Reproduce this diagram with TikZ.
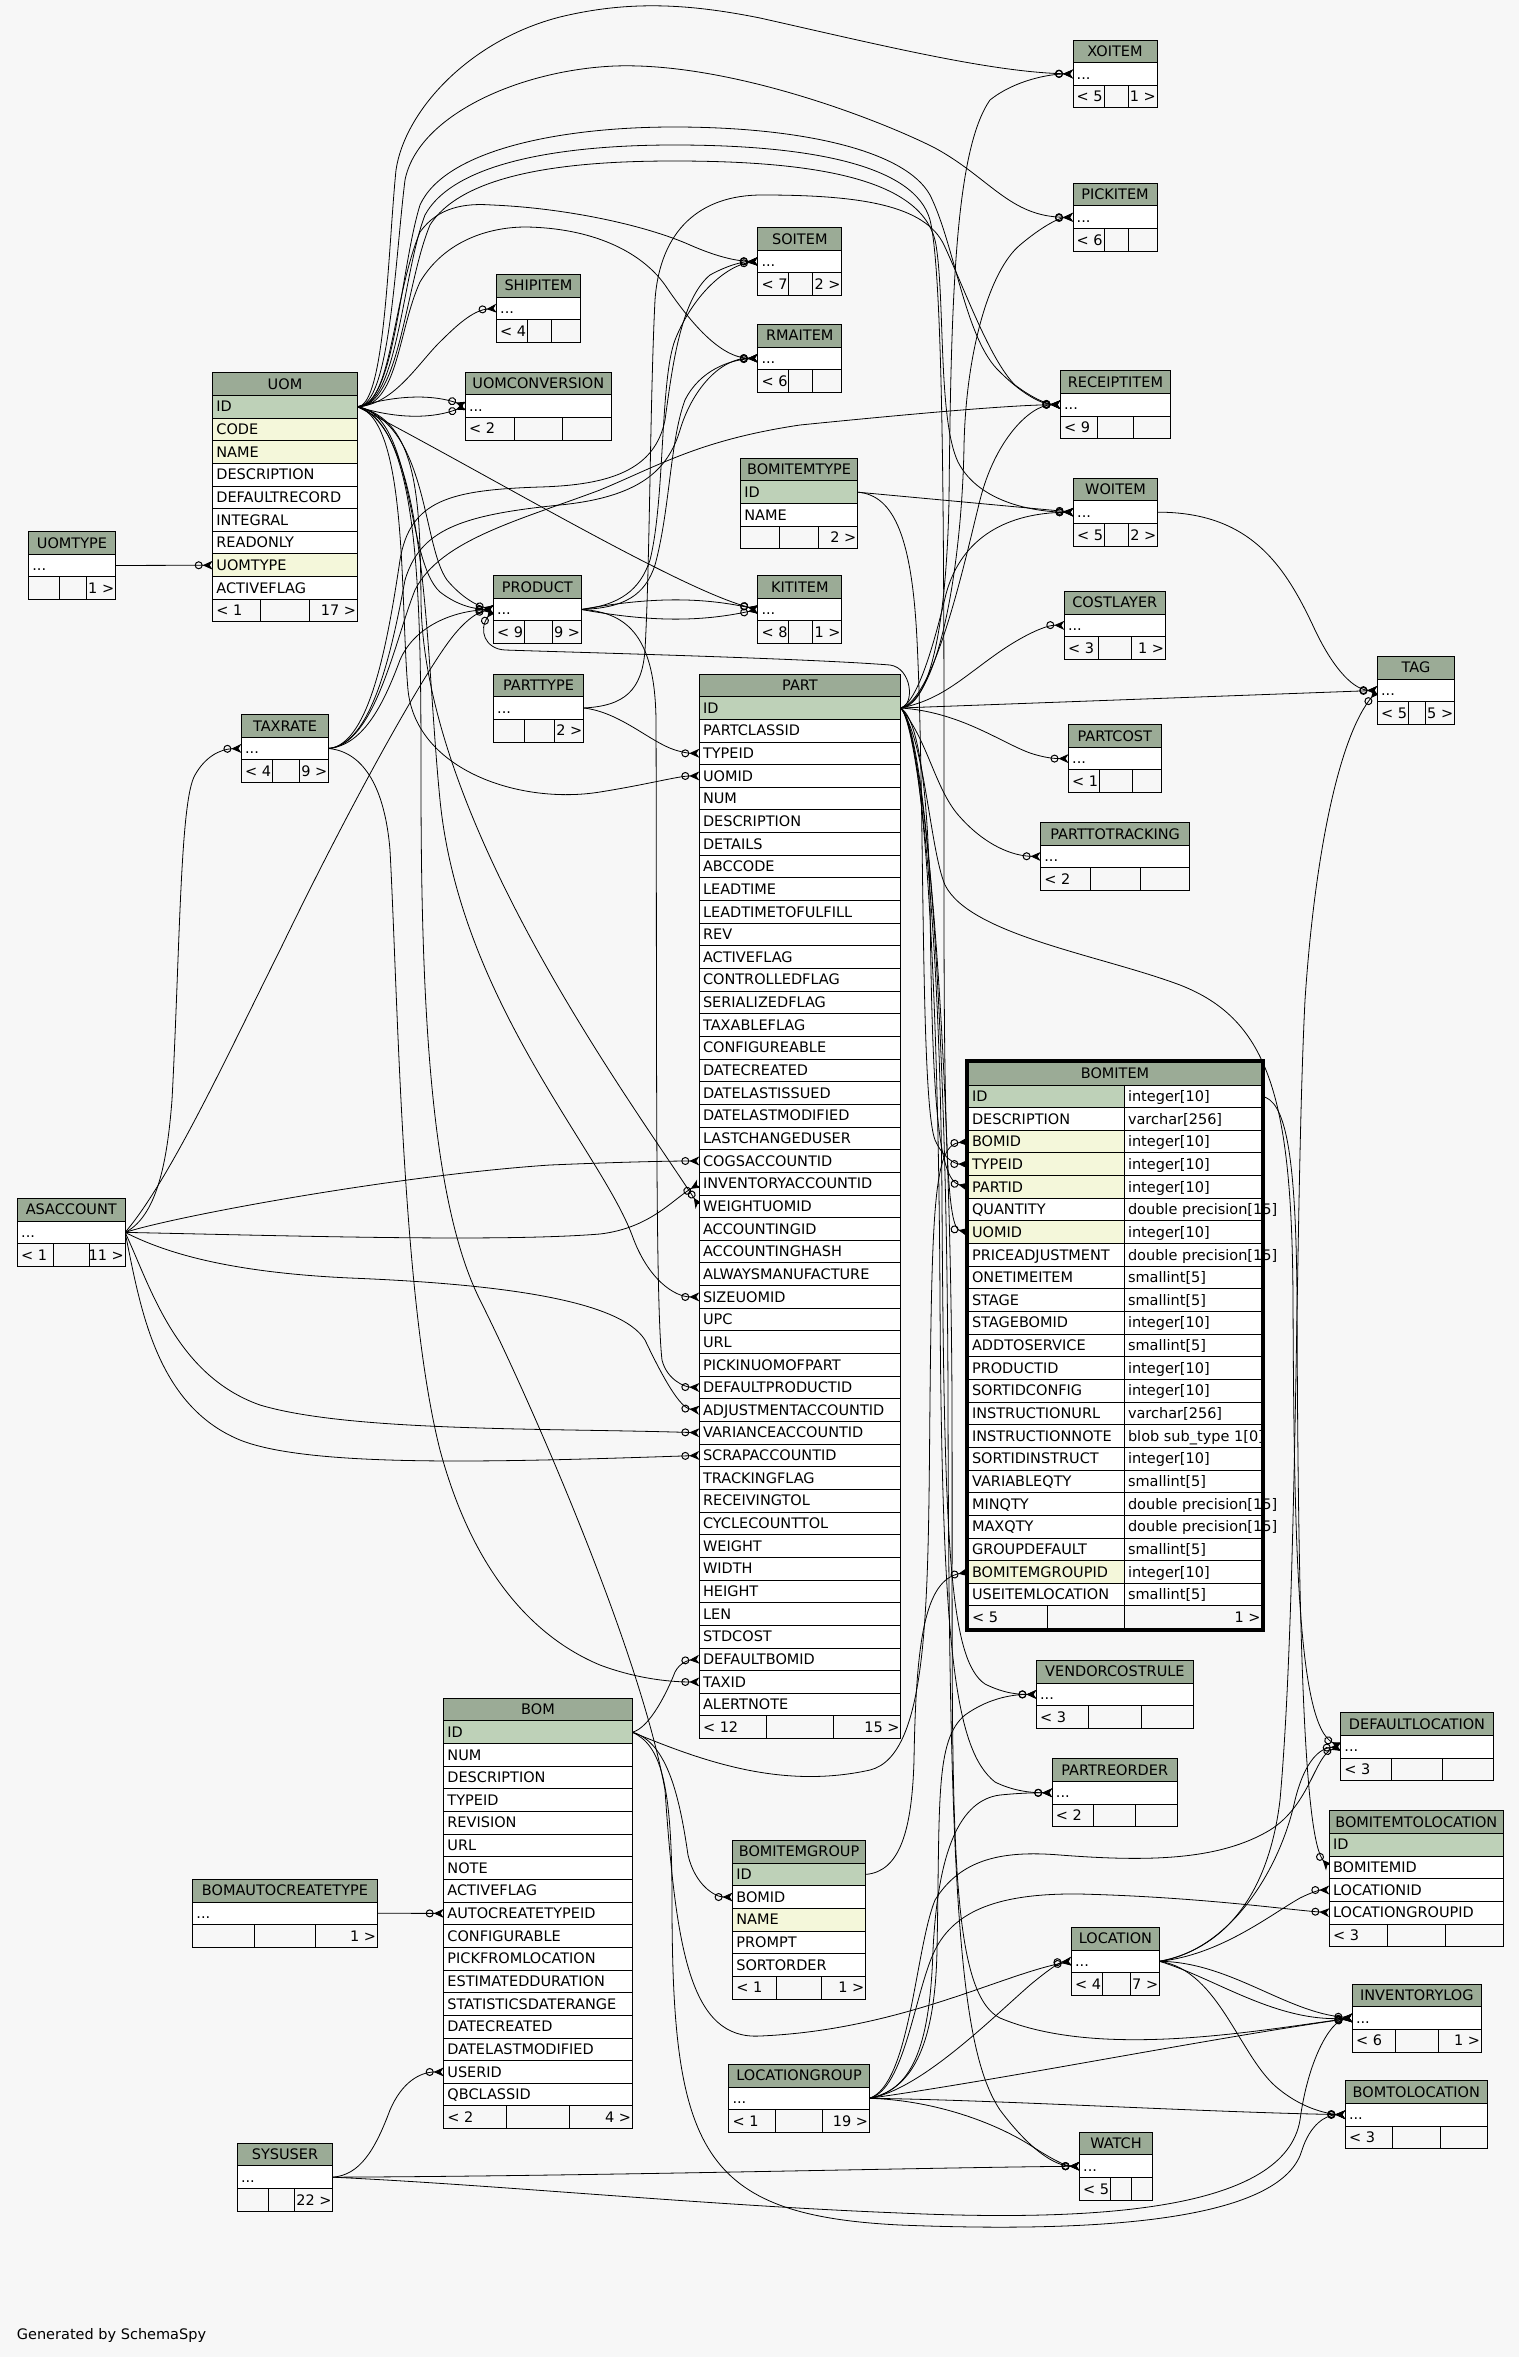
\documentclass[tikz,border=0pt]{standalone}
\usepackage{fontspec}
\setmainfont{DejaVu Sans}
\usetikzlibrary{arrows.meta, positioning}

\definecolor{hdrgreen}{HTML}{9BAB96}
\definecolor{keygreen}{HTML}{BED1B8}
\definecolor{idxyellow}{HTML}{F4F7DA}
\definecolor{pagebg}{HTML}{F7F7F7}

\pgfdeclarelayer{bg}
\pgfdeclarelayer{edges}
\pgfsetlayers{bg,edges,main}

\newcommand{\tblfont}{\fontsize{14.5}{16}\selectfont}
\newcommand{\rowh}{22.65}

\tikzset{
  cell/.style={draw=black, line width=0.9pt, minimum height=22.65pt, inner sep=0pt, outer sep=0pt, anchor=north west},
  cell-h/.style={cell, fill=hdrgreen},
  cell-k/.style={cell, fill=keygreen},
  cell-i/.style={cell, fill=idxyellow},
  cell-n/.style={cell, fill=white},
  txt/.style={anchor=base west, inner sep=0pt, font=\tblfont},
  fk/.style={line width=0.8pt, -{Circle[open, length=8pt, width=8pt, line width=1pt] Stealth[reversed, length=10pt, width=9pt, inset=3pt]}},
}

% footer row: x, y, width, left text, right text, last cell width
\newcommand{\dbfoot}[6]{%
  \pgfmathsetmacro\splita{#3<100 ? 31 : #3/3}
  \pgfmathsetmacro\splitb{#3<100 ? #3-#6 : 2*#3/3}
  \draw[line width=0.9pt, fill=pagebg] (#1,{#2}) rectangle ++(#3,\rowh);
  \draw[line width=0.9pt] ({#1+\splita},{#2}) -- ++(0,\rowh) ({#1+\splitb},{#2}) -- ++(0,\rowh);
  \node[txt] at ({#1+3.5},{#2+16.5}) {#4};
  \node[txt, anchor=base east] at ({#1+#3-1},{#2+16.5}) {#5};
}

% table with columns: name, x, y, width, columns, footer left, footer right
\newcommand{\dbtable}[7]{%
  \node[cell-h, minimum width=#4pt] (#1) at (#2,#3) {};
  \node[font=\tblfont, anchor=base, inner sep=0pt] at ([yshift=-5.2pt]#1.center) {#1};
  \foreach \col/\sty [count=\r] in {#5} {
    \node[cell-\sty, minimum width=#4pt] (#1-\col) at (#2,{#3+\rowh*\r}) {};
    \node[txt] at ([xshift=3.5pt, yshift=-5.2pt]#1-\col.west) {\col};
    \xdef\nrows{\r}
  }
  \dbfoot{#2}{#3+\rowh*(\nrows+1)}{#4}{#6}{#7}{29}
}

% collapsed table: [last cell], name, x, y, width, footer left, footer right
\newcommand{\dbsmall}[7][29]{%
  \node[cell-h, minimum width=#5pt] (#2) at (#3,#4) {};
  \node[font=\tblfont, anchor=base, inner sep=0pt] at ([yshift=-5.2pt]#2.center) {#2};
  \node[cell-n, minimum width=#5pt] (#2-dots) at (#3,{#4+\rowh}) {};
  \node[txt] at ([xshift=3.5pt, yshift=-5.2pt]#2-dots.west) {...};
  \dbfoot{#3}{#4+2*\rowh}{#5}{#6}{#7}{#1}
}

\begin{document}
\begin{tikzpicture}[x=1pt, y=-1pt]
  \begin{pgfonlayer}{bg}
    \fill[pagebg] (0,0) rectangle (1519,2357);
  \end{pgfonlayer}
  \useasboundingbox (0,0) rectangle (1519,2357);

  % 1. Tables
  \dbsmall{XOITEM}{1073}{40}{84}{< 5}{1 >}
  \dbsmall{PICKITEM}{1073}{183.3}{84}{< 6}{}
  \dbsmall{SOITEM}{757.8}{227.5}{84}{< 7}{2 >}
  \dbsmall{SHIPITEM}{496.5}{274.3}{84}{< 4}{}
  \dbsmall{RMAITEM}{757.8}{324.3}{84}{< 6}{}
  \dbsmall{RECEIPTITEM}{1060.4}{370.7}{110}{< 9}{}
  \dbsmall{UOMCONVERSION}{465.3}{372}{146}{< 2}{}
  \dbsmall{UOMTYPE}{28.6}{531.5}{86.8}{}{1 >}
  \dbsmall{WOITEM}{1073.5}{478.2}{84}{< 5}{2 >}
  \dbsmall{PRODUCT}{493.3}{575.5}{88}{< 9}{9 >}
  \dbsmall{KITITEM}{757.8}{575.5}{84}{< 8}{1 >}
  \dbsmall{COSTLAYER}{1064.3}{591.4}{101}{< 3}{1 >}
  \dbsmall{TAG}{1377.4}{656.4}{77}{< 5}{5 >}
  \dbsmall{PARTTYPE}{493.5}{674}{90}{}{2 >}
  \dbsmall{PARTCOST}{1068.5}{724.6}{92.6}{< 1}{}
  \dbsmall{TAXRATE}{241.4}{714.5}{87.2}{< 4}{9 >}
  \dbsmall{PARTTOTRACKING}{1040.6}{822.5}{149}{< 2}{}
  \dbsmall{ASACCOUNT}{17.5}{1198.4}{107.6}{< 1}{11 >}
  \dbsmall{VENDORCOSTRULE}{1036.4}{1660.4}{157}{< 3}{}
  \dbsmall{DEFAULTLOCATION}{1340.7}{1712.7}{152.6}{< 3}{}
  \dbsmall{PARTREORDER}{1052.2}{1758.8}{125}{< 2}{}
  \dbsmall{BOMAUTOCREATETYPE}{192.7}{1879.3}{184.6}{}{1 >}
  \dbsmall{LOCATION}{1071.4}{1927.3}{88}{< 4}{7 >}
  \dbsmall{INVENTORYLOG}{1352.3}{1984}{129}{< 6}{1 >}
  \dbsmall{LOCATIONGROUP}{728.8}{2064.3}{140.5}{< 1}{19 >}
  \dbsmall{BOMTOLOCATION}{1345.3}{2080.7}{142}{< 3}{}
  \dbsmall[21]{WATCH}{1079.5}{2132.2}{73}{< 5}{}
  \dbsmall[38]{SYSUSER}{237.3}{2143.2}{95.4}{}{22 >}

  \dbtable{UOM}{212.7}{372.7}{144.6}{ID/k, CODE/i, NAME/i, DESCRIPTION/n, DEFAULTRECORD/n, INTEGRAL/n, READONLY/n, UOMTYPE/i, ACTIVEFLAG/n}{< 1}{17 >}
  \dbtable{BOMITEMTYPE}{740.6}{458.2}{117}{ID/k, NAME/n}{}{2 >}
  \dbtable{PART}{699.3}{674}{201.4}{ID/k, PARTCLASSID/n, TYPEID/n, UOMID/n, NUM/n, DESCRIPTION/n, DETAILS/n, ABCCODE/n, LEADTIME/n, LEADTIMETOFULFILL/n, REV/n, ACTIVEFLAG/n, CONTROLLEDFLAG/n, SERIALIZEDFLAG/n, TAXABLEFLAG/n, CONFIGUREABLE/n, DATECREATED/n, DATELASTISSUED/n, DATELASTMODIFIED/n, LASTCHANGEDUSER/n, COGSACCOUNTID/n, INVENTORYACCOUNTID/n, WEIGHTUOMID/n, ACCOUNTINGID/n, ACCOUNTINGHASH/n, ALWAYSMANUFACTURE/n, SIZEUOMID/n, UPC/n, URL/n, PICKINUOMOFPART/n, DEFAULTPRODUCTID/n, ADJUSTMENTACCOUNTID/n, VARIANCEACCOUNTID/n, SCRAPACCOUNTID/n, TRACKINGFLAG/n, RECEIVINGTOL/n, CYCLECOUNTTOL/n, WEIGHT/n, WIDTH/n, HEIGHT/n, LEN/n, STDCOST/n, DEFAULTBOMID/n, TAXID/n, ALERTNOTE/n}{< 12}{15 >}
  \dbtable{BOM}{443.7}{1698.2}{188.6}{ID/k, NUM/n, DESCRIPTION/n, TYPEID/n, REVISION/n, URL/n, NOTE/n, ACTIVEFLAG/n, AUTOCREATETYPEID/n, CONFIGURABLE/n, PICKFROMLOCATION/n, ESTIMATEDDURATION/n, STATISTICSDATERANGE/n, DATECREATED/n, DATELASTMODIFIED/n, USERID/n, QBCLASSID/n}{< 2}{4 >}
  \dbtable{BOMITEMTOLOCATION}{1329.3}{1810.7}{174}{ID/k, BOMITEMID/n, LOCATIONID/n, LOCATIONGROUPID/n}{< 3}{}
  \dbtable{BOMITEMGROUP}{732.6}{1840.4}{132.9}{ID/k, BOMID/n, NAME/i, PROMPT/n, SORTORDER/n}{< 1}{1 >}

  % 2. BOMITEM with its type column
  \node[cell-h, minimum width=293.4pt] (BOMITEM) at (968.3,1062.3) {};
  \node[font=\tblfont, anchor=base, inner sep=0pt] at ([yshift=-5.2pt]BOMITEM.center) {BOMITEM};
  \foreach \col/\typ/\sty [count=\r] in {ID/integer[10]/k, DESCRIPTION/varchar[256]/n, BOMID/integer[10]/i, TYPEID/integer[10]/i, PARTID/integer[10]/i, QUANTITY/double precision[15]/n, UOMID/integer[10]/i, PRICEADJUSTMENT/double precision[15]/n, ONETIMEITEM/smallint[5]/n, STAGE/smallint[5]/n, STAGEBOMID/integer[10]/n, ADDTOSERVICE/smallint[5]/n, PRODUCTID/integer[10]/n, SORTIDCONFIG/integer[10]/n, INSTRUCTIONURL/varchar[256]/n, INSTRUCTIONNOTE/blob sub\_type 1[0]/n, SORTIDINSTRUCT/integer[10]/n, VARIABLEQTY/smallint[5]/n, MINQTY/double precision[15]/n, MAXQTY/double precision[15]/n, GROUPDEFAULT/smallint[5]/n, BOMITEMGROUPID/integer[10]/i, USEITEMLOCATION/smallint[5]/n} {
    \node[cell-\sty, minimum width=156pt] (BOMITEM-\col) at (968.3,{1062.3+\rowh*\r}) {};
    \node[cell-n, minimum width=137.4pt] (BOMITEM-\col-t) at (1124.3,{1062.3+\rowh*\r}) {};
    \node[txt] at ([xshift=3.5pt, yshift=-5.2pt]BOMITEM-\col.west) {\col};
    \node[txt] at ([xshift=3.5pt, yshift=-5.2pt]BOMITEM-\col-t.west) {\typ};
  }
  \draw[line width=0.9pt, fill=pagebg] (968.3,1605.9) rectangle ++(293.4,\rowh);
  \draw[line width=0.9pt] (1047.5,1605.9) -- ++(0,\rowh) (1124.3,1605.9) -- ++(0,\rowh);
  \node[txt] at (971.8,1622.4) {< 5};
  \node[txt, anchor=base east] at (1260.7,1622.4) {1 >};
  \draw[line width=2.5pt] (966.5,1060.5) rectangle (1263.5,1630.4);

  \node[txt] (credit) at (16.7,2339) {Generated by SchemaSpy};

  % 3. Foreign keys
  \begin{pgfonlayer}{edges}
    % from UOM
    \draw[fk] (UOM-ID.east) .. controls (385,407) and (388,250) .. (396,170) .. controls (405,110) and (470,40) .. (560,17) .. controls (630,0) and (690,4) .. (760,18) .. controls (880,45) and (990,72) .. (XOITEM-dots.west);
    \draw[fk] (UOM-ID.east) .. controls (390,407) and (395,260) .. (405,180) .. controls (418,115) and (520,70) .. (615,66) .. controls (730,62) and (880,120) .. (935,148) .. controls (990,178) and (1010,217) .. (PICKITEM-dots.west);
    \draw[fk] (UOM-ID.east) .. controls (395,407) and (400,270) .. (420,205) .. controls (445,150) and (560,127) .. (674,127) .. controls (800,127) and (905,150) .. (930,195) .. controls (955,245) and (965,340) .. (1000,372) .. controls (1020,392) and (1040,404) .. (RECEIPTITEM-dots.west);
    \draw[fk] (UOM-ID.east) .. controls (400,407) and (405,285) .. (430,225) .. controls (465,170) and (580,161) .. (674,161) .. controls (820,161) and (925,180) .. (936,245) .. controls (945,300) and (938,420) .. (958,462) .. controls (980,505) and (1040,512) .. (WOITEM-dots.west);
    \draw[fk] (UOM-ID.east) .. controls (392,407) and (392,300) .. (420,232) .. controls (438,207) and (465,203) .. (492,205) .. controls (565,208) and (645,225) .. (690,245) .. controls (715,256) and (735,261) .. (SOITEM-dots.west);
    \draw[fk] (UOM-ID.east) .. controls (398,407) and (398,330) .. (420,282) .. controls (445,240) and (490,227) .. (526,227) .. controls (590,228) and (640,250) .. (665,285) .. controls (690,322) and (720,358) .. (RMAITEM-dots.west);
    \draw[fk] (UOM-ID.east) .. controls (395,405) and (420,360) .. (443,339) .. controls (460,322) and (475,310) .. (SHIPITEM-dots.west);
    \draw[fk] (UOM-ID.east) .. controls (400,394) and (435,395) .. (UOMCONVERSION-dots.west);
    \draw[fk] (UOM-ID.east) .. controls (400,420) and (435,418) .. (UOMCONVERSION-dots.west);
    \draw[fk] (UOM-ID.east) .. controls (480,470) and (680,590) .. (KITITEM-dots.west);
    \draw[fk] (UOM-ID.east) .. controls (415,415) and (405,560) .. (440,592) .. controls (458,606) and (475,609) .. (PRODUCT-dots.west);
    \draw[fk] (UOM-ID.east) .. controls (428,425) and (422,545) .. (447,580) .. controls (462,598) and (478,606) .. (PRODUCT-dots.west);
    \draw[fk] (UOM-ID.east) .. controls (408,420) and (400,600) .. (408,690) .. controls (416,770) and (520,805) .. (600,792) .. controls (650,784) and (678,776) .. (PART-UOMID.west);
    \draw[fk] (UOM-ID.east) .. controls (418,420) and (420,500) .. (421,600) .. controls (423,820) and (630,1100) .. (PART-WEIGHTUOMID.west);
    \draw[fk] (UOM-ID.east) .. controls (428,430) and (425,650) .. (440,800) .. controls (460,1000) and (600,1150) .. (632,1235) .. controls (648,1280) and (675,1297) .. (PART-SIZEUOMID.west);
    \draw[fk] (UOM-ID.east) .. controls (398,407) and (402,275) .. (425,215) .. controls (455,160) and (570,145) .. (674,145) .. controls (810,145) and (915,165) .. (930,220) .. controls (945,280) and (944,600) .. (944,900) .. controls (944,1150) and (948,1228) .. (BOMITEM-UOMID.west);
    \draw[fk] (UOM-ID.east) .. controls (420,425) and (421,600) .. (421,780) .. controls (421,1000) and (430,1200) .. (480,1300) .. controls (530,1400) and (640,1650) .. (665,1790) .. controls (676,1950) and (690,2040) .. (760,2036) .. controls (900,2030) and (1000,1975) .. (LOCATION-dots.west);
    \draw[fk] (UOMTYPE-dots.east) -- (UOM-UOMTYPE.west);

    % from PART
    \draw[fk] (PART-ID.east) .. controls (935,705) and (947,600) .. (949,500) .. controls (951,300) and (955,150) .. (990,100) .. controls (1015,80) and (1050,74) .. (XOITEM-dots.west);
    \draw[fk] (PART-ID.east) .. controls (940,700) and (962,560) .. (964,446) .. controls (966,350) and (990,270) .. (1020,245) .. controls (1040,228) and (1058,218) .. (PICKITEM-dots.west);
    \draw[fk] (PART-ID.east) .. controls (935,700) and (965,560) .. (980,500) .. controls (995,440) and (1030,405) .. (RECEIPTITEM-dots.west);
    \draw[fk] (PART-ID.east) .. controls (918,702) and (935,640) .. (946,594) .. controls (962,535) and (1010,513) .. (WOITEM-dots.west);
    \draw[fk] (PART-ID.east) .. controls (940,700) and (960,680) .. (995,655) .. controls (1020,637) and (1045,625) .. (COSTLAYER-dots.west);
    \draw[fk] (PART-ID.east) -- (TAG-dots.west);
    \draw[fk] (PART-ID.east) .. controls (960,712) and (1000,742) .. (1030,753) .. controls (1045,758) and (1055,758.6) .. (PARTCOST-dots.west);
    \draw[fk] (PART-ID.east) .. controls (928,740) and (935,790) .. (960,817) .. controls (985,845) and (1012,856) .. (PARTTOTRACKING-dots.west);
    \draw[fk] (PART-ID.east) .. controls (925,740) and (930,850) .. (945,885) .. controls (970,935) and (1100,955) .. (1180,985) .. controls (1270,1020) and (1292,1100) .. (1293,1300) .. controls (1294,1550) and (1298,1725) .. (DEFAULTLOCATION-dots.west);
    \draw[fk] (PART-ID.east) .. controls (915,705) and (912,668) .. (890,665) .. controls (800,658) and (560,652) .. (505,650) .. controls (485,649) and (478,630) .. (PRODUCT-dots.west);
    \draw[fk] (PART-ID.east) .. controls (920,720) and (928,800) .. (930,900) .. controls (932,1100) and (938,1180) .. (BOMITEM-PARTID.west);
    \draw[fk] (PART-ID.east) .. controls (915,720) and (940,900) .. (942,1200) .. controls (944,1550) and (950,1660) .. (985,1684) .. controls (1005,1694) and (1020,1694.4) .. (VENDORCOSTRULE-dots.west);
    \draw[fk] (PART-ID.east) .. controls (918,720) and (938,900) .. (940,1300) .. controls (942,1650) and (955,1750) .. (995,1782) .. controls (1015,1792) and (1035,1792.8) .. (PARTREORDER-dots.west);
    \draw[fk] (PART-ID.east) .. controls (922,730) and (950,1000) .. (952,1400) .. controls (953,1800) and (945,1990) .. (1000,2018) .. controls (1100,2060) and (1260,2030) .. (INVENTORYLOG-dots.west);
    \draw[fk] (PART-ID.east) .. controls (925,730) and (947,1000) .. (948,1400) .. controls (949,1900) and (960,2050) .. (1000,2110) .. controls (1030,2150) and (1055,2166) .. (WATCH-dots.west);

    % from BOMITEMTYPE, BOM, BOMITEMGROUP, BOMITEM
    \draw[fk] (BOMITEMTYPE-ID.east) -- (WOITEM-dots.west);
    \draw[fk] (BOMITEMTYPE-ID.east) .. controls (895,495) and (912,540) .. (917,640) .. controls (925,800) and (920,1100) .. (935,1140) .. controls (943,1158) and (955,1164) .. (BOMITEM-TYPEID.west);
    \draw[fk] (BOM-ID.east) .. controls (650,1728) and (668,1690) .. (675,1672) .. controls (680,1662) and (690,1660) .. (PART-DEFAULTBOMID.west);
    \draw[fk] (BOM-ID.east) .. controls (668,1742) and (680,1800) .. (688,1855) .. controls (695,1885) and (715,1897) .. (BOMITEMGROUP-BOMID.west);
    \draw[fk] (BOM-ID.east) .. controls (700,1760) and (780,1790) .. (870,1770) .. controls (930,1755) and (928,1600) .. (930,1400) .. controls (932,1200) and (935,1145) .. (BOMITEM-BOMID.west);
    \draw[fk] (BOM-ID.east) .. controls (660,1745) and (672,1780) .. (672,1900) .. controls (672,2150) and (700,2215) .. (900,2225) .. controls (1150,2235) and (1285,2210) .. (1302,2150) .. controls (1310,2125) and (1325,2115) .. (BOMTOLOCATION-dots.west);
    \draw[fk] (BOMAUTOCREATETYPE-dots.east) -- (BOM-AUTOCREATETYPEID.west);
    \draw[fk] (BOMITEMGROUP-ID.east) .. controls (900,1872) and (912,1830) .. (914,1760) .. controls (916,1640) and (925,1580) .. (BOMITEM-BOMITEMGROUPID.west);
    \draw[fk] (BOMITEM-ID-t.east) .. controls (1285,1100) and (1296,1150) .. (1297,1300) .. controls (1298,1650) and (1305,1840) .. (BOMITEMTOLOCATION-BOMITEMID.west);

    % from WOITEM
    \draw[fk] (WOITEM-dots.east) .. controls (1250,512) and (1285,565) .. (1315,630) .. controls (1335,672) and (1355,690) .. (TAG-dots.west);

    % from LOCATION
    \draw[fk] (LOCATION-dots.east) .. controls (1220,1950) and (1268,1900) .. (1280,1800) .. controls (1298,1600) and (1295,1200) .. (1305,1000) .. controls (1315,850) and (1340,735) .. (TAG-dots.west);
    \draw[fk] (LOCATION-dots.east) .. controls (1230,1950) and (1280,1870) .. (1295,1800) .. controls (1305,1760) and (1320,1748) .. (DEFAULTLOCATION-dots.west);
    \draw[fk] (LOCATION-dots.east) .. controls (1220,1955) and (1270,1915) .. (1300,1898) .. controls (1312,1892) and (1320,1890) .. (BOMITEMTOLOCATION-LOCATIONID.west);
    \draw[fk] (LOCATION-dots.east) .. controls (1230,1962) and (1285,2012) .. (INVENTORYLOG-dots.west);
    \draw[fk] (LOCATION-dots.east) .. controls (1215,1978) and (1275,2022) .. (INVENTORYLOG-dots.west);
    \draw[fk] (LOCATION-dots.east) .. controls (1220,1970) and (1240,2060) .. (1280,2090) .. controls (1305,2110) and (1330,2114) .. (BOMTOLOCATION-dots.west);

    % from LOCATIONGROUP
    \draw[fk] (LOCATIONGROUP-dots.east) .. controls (920,2090) and (990,2020) .. (1030,1985) .. controls (1048,1970) and (1060,1962) .. (LOCATION-dots.west);
    \draw[fk] (LOCATIONGROUP-dots.east) .. controls (910,2090) and (935,2050) .. (937,1950) .. controls (940,1800) and (935,1740) .. (965,1715) .. controls (990,1697) and (1015,1694.4) .. (VENDORCOSTRULE-dots.west);
    \draw[fk] (LOCATIONGROUP-dots.east) .. controls (915,2090) and (930,2040) .. (933,1950) .. controls (938,1850) and (960,1800) .. (1000,1795) .. controls (1025,1792.5) and (1040,1792.8) .. (PARTREORDER-dots.west);
    \draw[fk] (LOCATIONGROUP-dots.east) .. controls (910,2085) and (915,1950) .. (935,1900) .. controls (960,1860) and (1000,1850) .. (1060,1855) .. controls (1150,1862) and (1220,1860) .. (1270,1830) .. controls (1310,1805) and (1315,1755) .. (DEFAULTLOCATION-dots.west);
    \draw[fk] (LOCATIONGROUP-dots.east) .. controls (905,2090) and (915,1990) .. (935,1950) .. controls (955,1910) and (1000,1893) .. (1080,1894) .. controls (1200,1897) and (1290,1910) .. (BOMITEMTOLOCATION-LOCATIONGROUPID.west);
    \draw[fk] (LOCATIONGROUP-dots.east) .. controls (1000,2080) and (1200,2040) .. (INVENTORYLOG-dots.west);
    \draw[fk] (LOCATIONGROUP-dots.east) .. controls (1000,2100) and (1200,2112) .. (BOMTOLOCATION-dots.west);
    \draw[fk] (LOCATIONGROUP-dots.east) .. controls (930,2100) and (990,2120) .. (1030,2145) .. controls (1050,2158) and (1065,2166) .. (WATCH-dots.west);

    % from SYSUSER
    \draw[fk] (SYSUSER-dots.east) .. controls (360,2175) and (375,2150) .. (390,2110) .. controls (402,2082) and (420,2072) .. (BOM-USERID.west);
    \draw[fk] (SYSUSER-dots.east) .. controls (600,2176) and (900,2168) .. (WATCH-dots.west);
    \draw[fk] (SYSUSER-dots.east) .. controls (500,2185) and (700,2205) .. (900,2213) .. controls (1100,2222) and (1285,2210) .. (1300,2120) .. controls (1308,2060) and (1330,2022) .. (INVENTORYLOG-dots.west);

    % from TAXRATE
    \draw[fk] (TAXRATE-dots.east) .. controls (365,745) and (385,700) .. (400,660) .. controls (415,625) and (455,611) .. (PRODUCT-dots.west);
    \draw[fk] (TAXRATE-dots.east) .. controls (365,752) and (385,790) .. (390,850) .. controls (398,1000) and (402,1300) .. (440,1450) .. controls (475,1580) and (540,1640) .. (600,1665) .. controls (640,1680) and (675,1682) .. (PART-TAXID.west);
    \draw[fk] (TAXRATE-dots.east) .. controls (370,745) and (388,640) .. (400,560) .. controls (410,500) and (450,490) .. (540,487) .. controls (610,485) and (655,470) .. (665,420) .. controls (672,370) and (680,300) .. (710,275) .. controls (730,264) and (745,261.5) .. (SOITEM-dots.west);
    \draw[fk] (TAXRATE-dots.east) .. controls (372,745) and (392,650) .. (405,580) .. controls (420,530) and (460,515) .. (560,505) .. controls (640,497) and (668,470) .. (680,430) .. controls (692,390) and (720,358) .. (RMAITEM-dots.west);
    \draw[fk] (TAXRATE-dots.east) .. controls (375,745) and (395,640) .. (415,590) .. controls (440,540) and (520,520) .. (600,490) .. controls (660,465) and (700,440) .. (800,425) .. controls (950,410) and (1020,405) .. (RECEIPTITEM-dots.west);

    % from ASACCOUNT
    \draw[fk] (ASACCOUNT-dots.east) .. controls (160,1215) and (168,1150) .. (172,1100) .. controls (180,950) and (180,800) .. (195,775) .. controls (205,757) and (220,749) .. (TAXRATE-dots.west);
    \draw[fk] (ASACCOUNT-dots.east) .. controls (170,1180) and (230,1050) .. (280,950) .. controls (350,805) and (420,680) .. (450,640) .. controls (465,620) and (478,612) .. (PRODUCT-dots.west);
    \draw[fk] (ASACCOUNT-dots.east) .. controls (180,1215) and (400,1175) .. (550,1165) .. controls (620,1162) and (670,1161) .. (PART-COGSACCOUNTID.west);
    \draw[fk] (ASACCOUNT-dots.east) .. controls (300,1236) and (500,1242) .. (600,1234) .. controls (650,1228) and (672,1200) .. (PART-INVENTORYACCOUNTID.west);
    \draw[fk] (ASACCOUNT-dots.east) .. controls (160,1250) and (220,1272) .. (350,1278) .. controls (500,1284) and (620,1300) .. (645,1340) .. controls (663,1378) and (680,1408) .. (PART-ADJUSTMENTACCOUNTID.west);
    \draw[fk] (ASACCOUNT-dots.east) .. controls (150,1285) and (175,1375) .. (260,1405) .. controls (350,1432) and (550,1428) .. (PART-VARIANCEACCOUNTID.west);
    \draw[fk] (ASACCOUNT-dots.east) .. controls (140,1305) and (155,1405) .. (240,1440) .. controls (310,1468) and (500,1462) .. (PART-SCRAPACCOUNTID.west);

    % from PRODUCT
    \draw[fk] (PRODUCT-dots.east) .. controls (650,597) and (700,597) .. (KITITEM-dots.west);
    \draw[fk] (PRODUCT-dots.east) .. controls (650,622) and (700,622) .. (KITITEM-dots.west);
    \draw[fk] (PRODUCT-dots.east) .. controls (620,605) and (640,590) .. (650,560) .. controls (665,500) and (660,380) .. (675,340) .. controls (695,290) and (730,265) .. (SOITEM-dots.west);
    \draw[fk] (PRODUCT-dots.east) .. controls (625,608) and (645,595) .. (655,565) .. controls (670,510) and (670,440) .. (685,400) .. controls (700,370) and (730,360) .. (RMAITEM-dots.west);
    \draw[fk] (PRODUCT-dots.east) .. controls (630,612) and (655,640) .. (656,720) .. controls (657,1000) and (655,1300) .. (662,1360) .. controls (667,1380) and (685,1387) .. (PART-DEFAULTPRODUCTID.west);

    % from PARTTYPE
    \draw[fk] (PARTTYPE-dots.east) .. controls (620,712) and (650,742) .. (675,750) .. controls (685,753) and (690,753.3) .. (PART-TYPEID.west);
    \draw[fk] (PARTTYPE-dots.east) .. controls (625,706) and (642,690) .. (645,650) .. controls (650,560) and (650,400) .. (655,300) .. controls (660,230) and (700,195) .. (762,195) .. controls (860,195) and (925,205) .. (944,245) .. controls (965,290) and (990,360) .. (1015,385) .. controls (1035,400) and (1048,404) .. (RECEIPTITEM-dots.west);
  \end{pgfonlayer}
\end{tikzpicture}
\end{document}
